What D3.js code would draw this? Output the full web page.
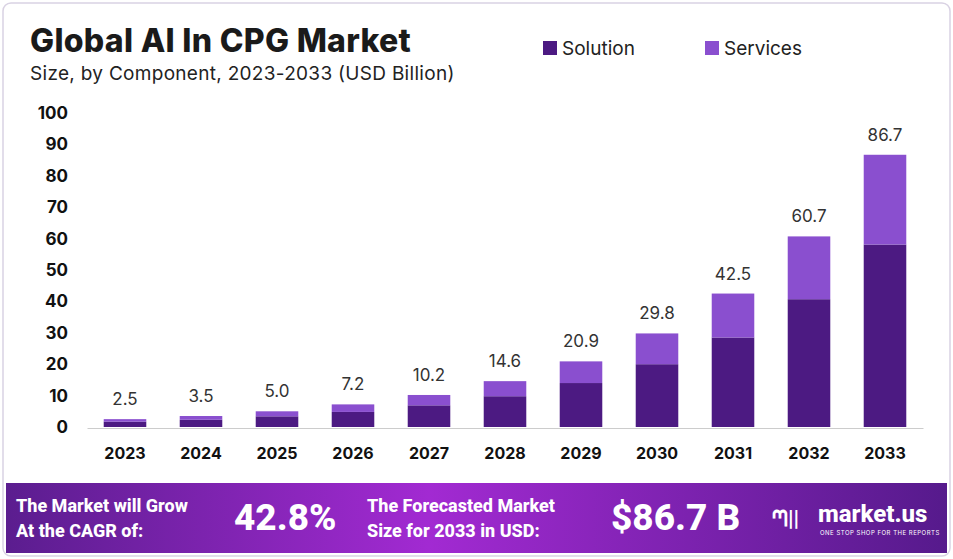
<!DOCTYPE html>
<html><head><meta charset="utf-8">
<script src="https://cdn.jsdelivr.net/npm/d3@7"></script>
<style>body{margin:0;background:#fff;font-family:Inter,"Open Sans",sans-serif}</style>
</head><body><div id="chart"></div>
<script>
const years = ['2023','2024','2025','2026','2027','2028','2029','2030','2031','2032','2033'];
const totals = [2.5,3.5,5.0,7.2,10.2,14.6,20.9,29.8,42.5,60.7,86.7];
const solution = [1.7,2.3,3.4,4.8,6.9,9.8,14.0,20.0,28.5,40.7,58.1];
const services = [0.8,1.2,1.6,2.4,3.3,4.8,6.9,9.8,14.0,20.0,28.6];
const yTicks = [0,10,20,30,40,50,60,70,80,90,100];
const keys = ['Solution','Services'];
const colors = {Solution:'#4c1a82', Services:'#8a4fcf'};

const W = 953, H = 559;
const svg = d3.select('#chart').append('svg').attr('width', W).attr('height', H);

// frame
svg.append('rect').attr('x',3).attr('y',3).attr('width',W-6).attr('height',H-6)
    .attr('rx',8).attr('fill','#fff').attr('stroke','#d9d2e3').attr('stroke-width',1.5);

svg.append('text').attr('x',30).attr('y',52).text('Global AI In CPG Market')
    .attr('font-size',32).attr('font-weight',800).attr('fill','#1a1a1a').attr('letter-spacing',0.3);
svg.append('text').attr('x',30).attr('y',80).text('Size, by Component, 2023-2033 (USD Billion)')
    .attr('font-size',19).attr('fill','#222').attr('letter-spacing',0.3);

// legend
const leg = svg.append('g');
[[543,'Solution'],[705,'Services']].forEach(([x,k]) => {
    leg.append('rect').attr('x',x).attr('y',41).attr('width',14).attr('height',14).attr('fill',colors[k]);
    leg.append('text').attr('x',x+19).attr('y',55).text(k).attr('font-size',19).attr('fill','#222');
});

const x = d3.scaleBand().domain(years).range([87,923]).paddingInner(0.44).paddingOuter(0.22);
const y = d3.scaleLinear().domain([0,100]).range([427,113]);

const rows = years.map((yr,i) => ({year:yr, Solution:solution[i], Services:services[i]}));
const stacked = d3.stack().keys(keys)(rows);

svg.append('g').selectAll('g').data(stacked).join('g')
    .attr('fill', d => colors[d.key])
  .selectAll('rect').data(d => d).join('rect')
    .attr('x', d => x(d.data.year))
    .attr('y', d => y(d[1]))
    .attr('width', x.bandwidth())
    .attr('height', d => y(d[0]) - y(d[1]));

svg.append('g').selectAll('text').data(years).join('text')
    .attr('x', d => x(d) + x.bandwidth()/2)
    .attr('y', (d,i) => y(totals[i]) - 14)
    .attr('text-anchor','middle').attr('font-size',17).attr('fill','#333')
    .text((d,i) => totals[i].toFixed(1));

const yAxis = svg.append('g').attr('transform','translate(68,0)')
    .call(d3.axisLeft(y).tickValues(yTicks).tickSize(0).tickPadding(0));
yAxis.select('.domain').remove();
yAxis.selectAll('text').attr('font-size',17).attr('font-weight',700).attr('fill','#111')
    .attr('font-family','Inter,sans-serif');

const xAxis = svg.append('g').attr('transform','translate(0,428)')
    .call(d3.axisBottom(x).tickSize(0).tickPadding(20));
xAxis.select('.domain').attr('stroke','#ccc');
xAxis.selectAll('text').attr('font-size',16).attr('font-weight',700).attr('fill','#111')
    .attr('font-family','Inter,sans-serif');

// banner
const grad = svg.append('defs').append('linearGradient').attr('id','bg');
grad.append('stop').attr('offset','0%').attr('stop-color','#5b1d8f');
grad.append('stop').attr('offset','45%').attr('stop-color','#a22ad2');
grad.append('stop').attr('offset','100%').attr('stop-color','#561a8c');
svg.append('rect').attr('x',6).attr('y',483).attr('width',W-12).attr('height',70).attr('fill','url(#bg)');

const bt = (tx, ty, s, fs, anchor) => svg.append('text').attr('x',tx).attr('y',ty).text(s)
    .attr('font-size',fs).attr('font-weight',800).attr('fill','#fff')
    .attr('text-anchor',anchor||'start').attr('font-family','Roboto,Inter,sans-serif');
bt(16,512,'The Market will Grow',18);
bt(16,537,'At the CAGR of:',18);
bt(234,530,'42.8%',37);
bt(367,512,'The Forecasted Market',18);
bt(367,537,'Size for 2033 in USD:',18);
bt(611,530,'$86.7 B',37);
bt(772,526,'ᘉ||',22);
bt(818,522,'market.us',24);
svg.append('text').attr('x',820).attr('y',535).text('ONE STOP SHOP FOR THE REPORTS')
    .attr('font-size',6).attr('fill','#fff').attr('letter-spacing',0.5);
</script></body></html>
